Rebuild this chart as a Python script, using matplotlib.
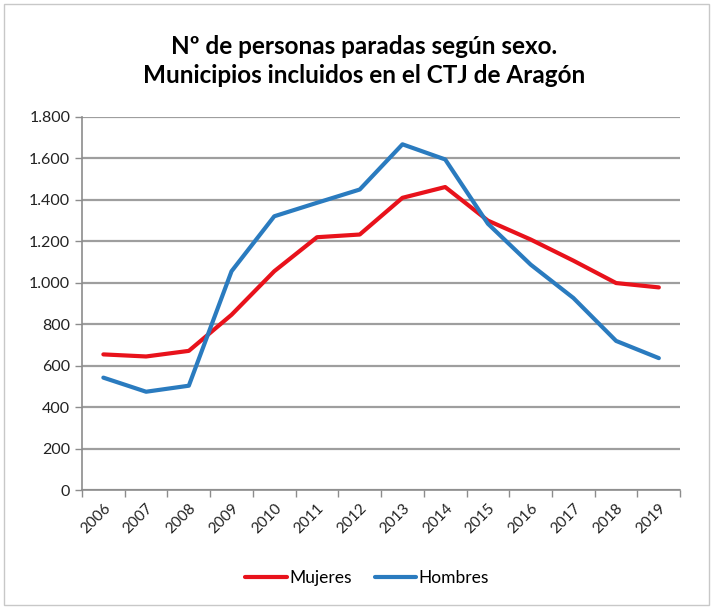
import matplotlib.pyplot as plt
from matplotlib.ticker import FuncFormatter
from matplotlib.patches import Rectangle

anios = ["2006", "2007", "2008", "2009", "2010", "2011", "2012",
         "2013", "2014", "2015", "2016", "2017", "2018", "2019"]
mujeres = [655, 645, 672, 846, 1056, 1220, 1233, 1410, 1462, 1300, 1209, 1107, 999, 978]
hombres = [543, 475, 504, 1056, 1321, 1386, 1450, 1668, 1595, 1285, 1088, 927, 720, 637]

plt.rcParams['font.family'] = ['Lato', 'DejaVu Sans']

fig = plt.figure(figsize=(7.13, 6.09), dpi=100)
ax = fig.add_axes([0.115, 0.195, 0.839, 0.613])

x = list(range(len(anios)))
ax.plot(x, mujeres, color="#e8121b", lw=3, label="Mujeres", solid_capstyle="round")
ax.plot(x, hombres, color="#2a7bbf", lw=3, label="Hombres", solid_capstyle="round")

ax.set_xlim(-0.5, len(anios) - 0.5)
ax.set_ylim(0, 1800)
ax.set_yticks(range(0, 1801, 200))
ax.yaxis.set_major_formatter(FuncFormatter(lambda v, p: f"{int(v):,}".replace(",", ".")))
ax.grid(axis="y", color="#9e9e9e", lw=1.6)
ax.set_axisbelow(True)

ax.set_xticks(x)
ax.set_xticklabels(anios, rotation=45, ha="right", rotation_mode="anchor")
ax.set_xticks([i - 0.5 for i in range(len(anios) + 1)], minor=True)
ax.tick_params(axis="x", which="major", length=0, pad=8, labelsize=11, colors="#222222")
ax.tick_params(axis="x", which="minor", length=5, color="#8c8c8c", width=1)
ax.tick_params(axis="y", length=5, color="#8c8c8c", width=1, labelsize=11.5, labelcolor="#222222")

for s in ["top", "right"]:
    ax.spines[s].set_visible(False)
for s in ["left", "bottom"]:
    ax.spines[s].set_color("#8c8c8c")
    ax.spines[s].set_linewidth(1.2)

fig.text(0.51, 0.9, "Nº de personas paradas según sexo.\nMunicipios incluidos en el CTJ de Aragón",
         ha="center", va="center", fontsize=17.5, fontweight="bold", linespacing=1.35)

fig.legend(loc="center", bbox_to_anchor=(0.515, 0.051), ncol=2, frameon=False,
           fontsize=12.5, handlelength=2.4, columnspacing=1.3, handletextpad=0.15)

fig.patches.append(Rectangle((0.006, 0.006), 0.988, 0.988, transform=fig.transFigure,
                             fill=False, edgecolor="#c8c8c8", lw=1))

plt.savefig("out.png", dpi=100)
